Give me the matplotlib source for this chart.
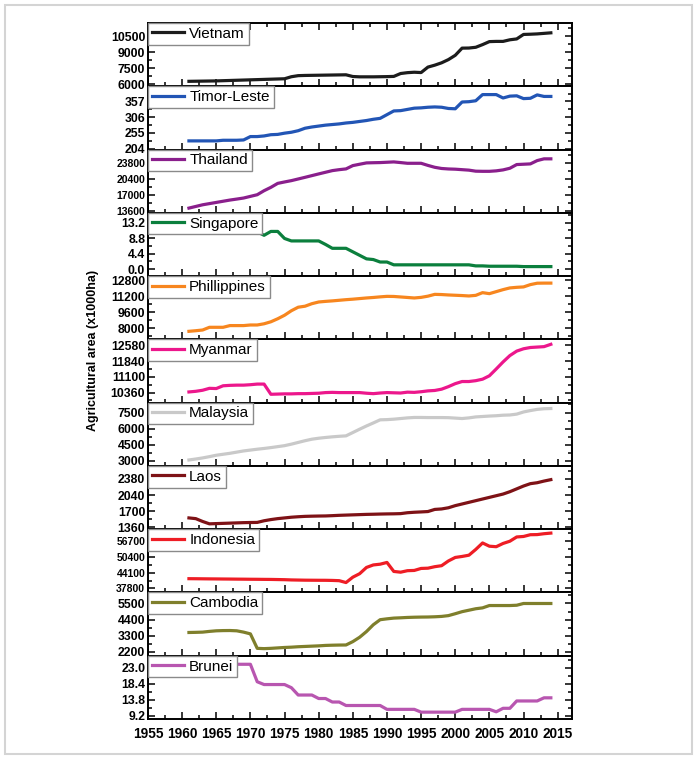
import matplotlib

matplotlib.use("Agg")
import matplotlib.pyplot as plt
import numpy as np
from matplotlib.patches import Rectangle
from matplotlib.ticker import AutoMinorLocator, FixedLocator, MultipleLocator

plt.rcParams["font.family"] = ["Liberation Sans", "DejaVu Sans"]

years = np.arange(1961, 2015)

vietnam = [6270, 6280, 6290, 6300, 6310, 6330, 6350, 6370, 6390, 6410, 6430, 6450, 6470, 6490,
           6510, 6700, 6800, 6820, 6830, 6840, 6850, 6860, 6870, 6880, 6720, 6690, 6690, 6690,
           6700, 6710, 6730, 7000, 7080, 7120, 7090, 7600, 7780, 8000, 8300, 8700, 9370, 9380,
           9450, 9700, 9980, 10000, 10000, 10150, 10230, 10650, 10670, 10700, 10750, 10800]
timor = [229, 229, 229, 229, 229, 231, 231, 231, 232, 243, 243, 245, 249, 250, 254, 257, 262,
         270, 274, 277, 280, 282, 284, 287, 289, 292, 295, 299, 302, 314, 326, 327, 331, 335,
         336, 338, 339, 338, 334, 333, 355, 356, 359, 379, 379, 379, 368, 374, 375, 366, 367,
         378, 373, 373]
thailand = [14170, 14520, 14870, 15120, 15370, 15620, 15870, 16080, 16300, 16650, 17000, 17850,
            18560, 19400, 19700, 19980, 20330, 20680, 21040, 21400, 21750, 22100, 22300, 22460,
            23160, 23450, 23730, 23770, 23800, 23870, 23940, 23800, 23650, 23650, 23650, 23200,
            22800, 22550, 22450, 22400, 22300, 22200, 21980, 21950, 21950, 22050, 22250, 22600,
            23380, 23450, 23520, 24220, 24590, 24590]
singapore = [14.0, 14.0, 14.0, 13.5, 13.5, 13.0, 13.0, 13.0, 12.5, 11.6, 10.6, 9.6, 10.7, 10.7,
             8.7, 8.0, 8.0, 8.0, 8.0, 8.0, 7.0, 5.9, 5.9, 5.9, 4.9, 3.9, 2.9, 2.7, 2.0, 2.0,
             1.2, 1.2, 1.2, 1.2, 1.2, 1.2, 1.2, 1.2, 1.2, 1.2, 1.2, 1.2, 0.9, 0.9, 0.8, 0.8,
             0.8, 0.8, 0.8, 0.7, 0.7, 0.7, 0.7, 0.7]
philippines = [7700, 7760, 7830, 8100, 8100, 8100, 8270, 8270, 8270, 8330, 8330, 8450, 8650,
               8950, 9300, 9750, 10100, 10200, 10450, 10620, 10680, 10730, 10790, 10850, 10900,
               10960, 11020, 11070, 11130, 11180, 11170, 11120, 11070, 11020, 11080, 11200,
               11380, 11360, 11320, 11290, 11260, 11220, 11280, 11550, 11450, 11650, 11850,
               12020, 12080, 12120, 12350, 12490, 12500, 12500]
myanmar = [10390, 10420, 10470, 10560, 10550, 10680, 10700, 10710, 10710, 10730, 10760, 10760,
           10280, 10290, 10300, 10300, 10310, 10310, 10320, 10330, 10360, 10370, 10360, 10360,
           10360, 10360, 10330, 10310, 10340, 10360, 10350, 10340, 10380, 10370, 10400, 10440,
           10460, 10520, 10640, 10780, 10880, 10880, 10920, 10990, 11150, 11470, 11800, 12100,
           12310, 12420, 12480, 12500, 12520, 12630]
malaysia = [3090, 3180, 3280, 3400, 3530, 3620, 3710, 3820, 3930, 4010, 4090, 4160, 4240, 4330,
            4420, 4560, 4720, 4880, 5020, 5110, 5180, 5240, 5290, 5330, 5640, 5950, 6250, 6530,
            6820, 6840, 6880, 6940, 7000, 7040, 7040, 7030, 7030, 7030, 7020, 6980, 6940, 7000,
            7090, 7130, 7170, 7200, 7250, 7270, 7350, 7550, 7680, 7790, 7850, 7870]
laos = [1555, 1540, 1480, 1430, 1435, 1440, 1445, 1450, 1455, 1458, 1460, 1495, 1520, 1540,
        1555, 1570, 1580, 1588, 1592, 1595, 1597, 1603, 1610, 1615, 1620, 1625, 1630, 1633,
        1637, 1640, 1642, 1646, 1665, 1675, 1682, 1690, 1735, 1745, 1770, 1815, 1850, 1885,
        1920, 1955, 1990, 2025, 2060, 2110, 2170, 2230, 2280, 2300, 2335, 2365]
indonesia = [41700, 41680, 41650, 41620, 41600, 41570, 41550, 41520, 41500, 41470, 41450, 41420,
             41400, 41350, 41300, 41200, 41150, 41100, 41080, 41060, 41050, 41000, 40900, 40150,
             42300, 43700, 46200, 47200, 47500, 48200, 44600, 44300, 44900, 45000, 45800, 45900,
             46500, 46900, 48800, 50200, 50600, 51100, 53400, 56000, 54700, 54500, 55800, 56700,
             58400, 58600, 59300, 59350, 59700, 59950]
cambodia = [3515, 3525, 3540, 3590, 3630, 3645, 3650, 3630, 3540, 3420, 2430, 2410, 2430, 2460,
            2490, 2510, 2540, 2560, 2580, 2600, 2630, 2645, 2655, 2660, 2890, 3190, 3580, 4045,
            4390, 4450, 4500, 4520, 4545, 4560, 4570, 4575, 4590, 4615, 4670, 4800, 4940, 5040,
            5140, 5200, 5360, 5360, 5360, 5360, 5380, 5500, 5500, 5500, 5500, 5500]
brunei = [22.0, 22.0, 22.0, 22.0, 22.0, 22.5, 23.3, 24.0, 24.0, 24.0, 19.0, 18.2, 18.2, 18.2,
          18.2, 17.3, 15.2, 15.2, 15.2, 14.2, 14.2, 13.2, 13.2, 12.2, 12.2, 12.2, 12.2, 12.2,
          12.2, 11.1, 11.1, 11.1, 11.1, 11.1, 10.3, 10.3, 10.3, 10.3, 10.3, 10.3, 11.1, 11.1,
          11.1, 11.1, 11.1, 10.4, 11.4, 11.4, 13.5, 13.5, 13.5, 13.5, 14.4, 14.4]

countries = ["Vietnam", "Timor-Leste", "Thailand", "Singapore", "Phillippines", "Myanmar",
             "Malaysia", "Laos", "Indonesia", "Cambodia", "Brunei"]
series = [vietnam, timor, thailand, singapore, philippines, myanmar, malaysia, laos, indonesia,
          cambodia, brunei]
colors = ["#1c1c1c", "#2255b5", "#8a1f8c", "#0b7f3d", "#f7861f", "#ec178c", "#c9c9c9",
          "#7e1216", "#ee1d25", "#7f7f2c", "#b856b0"]
yticks = [
    ["6000", "7500", "9000", "10500"],
    ["204", "255", "306", "357"],
    ["13600", "17000", "20400", "23800"],
    ["0.0", "4.4", "8.8", "13.2"],
    ["8000", "9600", "11200", "12800"],
    ["10360", "11100", "11840", "12580"],
    ["3000", "4500", "6000", "7500"],
    ["1360", "1700", "2040", "2380"],
    ["37800", "44100", "50400", "56700"],
    ["2200", "3300", "4400", "5500"],
    ["9.2", "13.8", "18.4", "23.0"],
]
ylims = [(5810, 11720), (201, 406), (13175, 26560), (-2.0, 16.0), (6900, 13200),
         (9888, 12863), (2540, 8418), (1317, 2656), (36190, 61520), (1925, 6256),
         (8.34, 26.45)]

fig, axes = plt.subplots(len(countries), 1, figsize=(6.98, 7.61), dpi=100, sharex=True)
fig.subplots_adjust(left=0.212, right=0.8195, top=0.9698, bottom=0.0552, hspace=0)

for i, ax in enumerate(axes):
    ax.plot(years, series[i], color=colors[i], lw=2.3, label=countries[i], solid_joinstyle="round")
    ax.set_ylim(*ylims[i])
    ax.set_xlim(1955, 2017.1)
    ticks = [float(t) for t in yticks[i]]
    ax.yaxis.set_major_locator(FixedLocator(ticks))
    ax.yaxis.set_minor_locator(AutoMinorLocator(2))
    small = countries[i] in ("Thailand", "Indonesia")
    ax.set_yticks(ticks, yticks[i], fontsize=7.5 if small else 8.8, fontweight="bold")
    ax.xaxis.set_major_locator(MultipleLocator(5))
    ax.xaxis.set_minor_locator(MultipleLocator(2.5))
    ax.tick_params(which="both", direction="in", right=True, top=(i == 0), width=1.1)
    ax.tick_params(which="major", length=5)
    ax.tick_params(which="minor", length=3)
    ax.tick_params(axis="y", pad=2)
    for sp in ax.spines.values():
        sp.set_linewidth(1.4)
    leg = ax.legend(loc="upper left", borderaxespad=0, fancybox=False, edgecolor="#8a8a8a",
                    framealpha=1, fontsize=11, handlelength=2.1, handletextpad=0.35,
                    borderpad=0.25)
    leg.get_frame().set_linewidth(1.0)

axes[-1].set_xticks(np.arange(1955, 2016, 5))
for lab in axes[-1].get_xticklabels():
    lab.set_fontweight("bold")
    lab.set_fontsize(9.8)
axes[-1].tick_params(axis="x", pad=6)

fig.text(0.133, 0.54, "Agricultural area (x1000ha)", rotation=90, ha="center", va="center",
         fontsize=9, fontweight="bold")

fig.patches.append(Rectangle((5 / 698, 1 - 754 / 761), 687 / 698, 749 / 761,
                             transform=fig.transFigure, fill=False, edgecolor="#d4d4d4",
                             lw=1.5))

fig.savefig("out.png", dpi=100)
